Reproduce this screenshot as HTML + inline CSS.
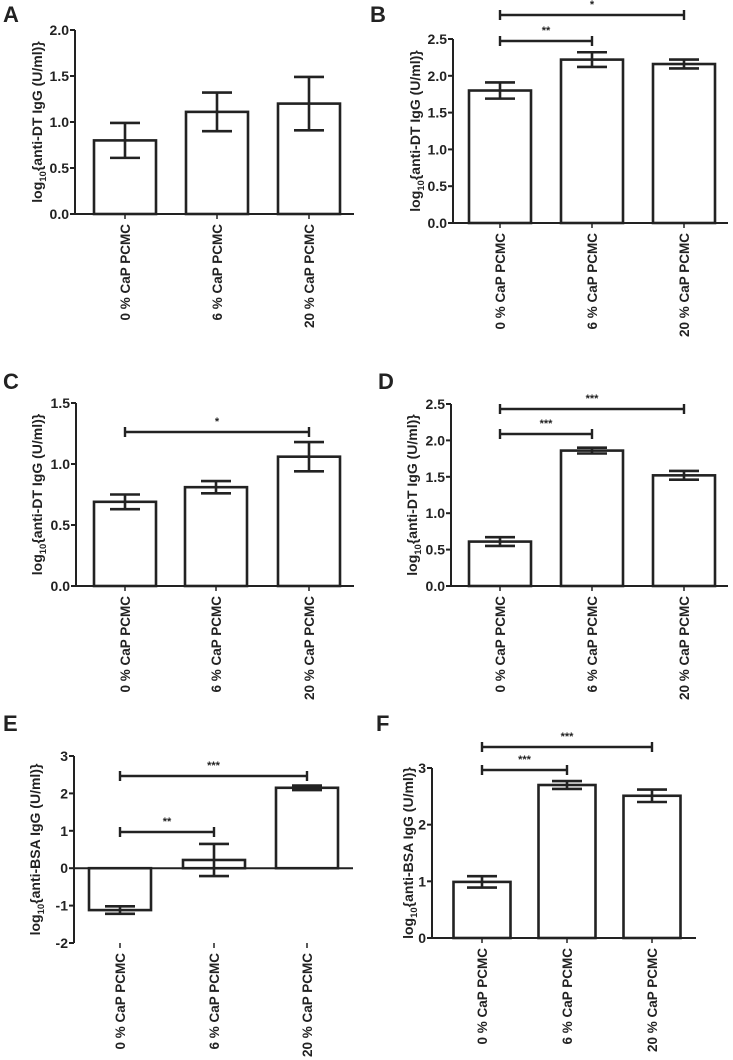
<!DOCTYPE html>
<html><head><meta charset="utf-8">
<style>
html,body{margin:0;padding:0;background:#fff;}
svg{display:block;}
text{font-family:"Liberation Sans",Arial,sans-serif;font-weight:bold;fill:#222;}
</style></head>
<body>
<svg id="fig" width="733" height="1060" viewBox="0 0 733 1060" xmlns="http://www.w3.org/2000/svg"></svg>
<script>
const categories = ["0 % CaP PCMC","6 % CaP PCMC","20 % CaP PCMC"];
const meansA = [0.80, 1.11, 1.20];
const errA   = [0.19, 0.21, 0.29];
const meansB = [1.80, 2.22, 2.16];
const errB   = [0.11, 0.10, 0.06];
const meansC = [0.69, 0.81, 1.06];
const errC   = [0.06, 0.05, 0.12];
const meansD = [0.61, 1.86, 1.52];
const errD   = [0.06, 0.04, 0.06];
const meansE = [-1.12, 0.22, 2.15];
const errE   = [0.10, 0.43, 0.06];
const meansF = [0.99, 2.70, 2.51];
const errF   = [0.10, 0.07, 0.11];
const ticksA = ["0.0","0.5","1.0","1.5","2.0"];
const ticksB = ["0.0","0.5","1.0","1.5","2.0","2.5"];
const ticksC = ["0.0","0.5","1.0","1.5"];
const ticksD = ["0.0","0.5","1.0","1.5","2.0","2.5"];
const ticksE = ["-2","-1","0","1","2","3"];
const ticksF = ["0","1","2","3"];
const sigB = [[0,2,"*"],[0,1,"**"]];
const sigC = [[0,2,"*"]];
const sigD = [[0,2,"***"],[0,1,"***"]];
const sigE = [[0,2,"***"],[0,1,"**"]];
const sigF = [[0,2,"***"],[0,1,"***"]];

const NS="http://www.w3.org/2000/svg";
const svg=document.getElementById('fig');
function mk(tag,attrs,parent){const e=document.createElementNS(NS,tag);for(const k in attrs)e.setAttribute(k,attrs[k]);(parent||svg).appendChild(e);return e;}

const panels=[
 {id:"a",letter:"A",lx:3,ly:22,ax:75,axEnd:354,yTop:30,y0:214,min:0,max:2.0,centers:[125,217,309],bw:62,means:meansA,errs:errA,ticks:ticksA,sig:[],sigY:[],title:"anti-DT IgG (U/ml)}",tx:37},
 {id:"b",letter:"B",lx:370,ly:22,ax:453,axEnd:728,yTop:39,y0:223,min:0,max:2.5,centers:[500,592,684],bw:62,means:meansB,errs:errB,ticks:ticksB,sig:sigB,sigY:[15,41],title:"anti-DT IgG (U/ml)}",tx:415},
 {id:"c",letter:"C",lx:3,ly:389,ax:76,axEnd:354,yTop:403,y0:586,min:0,max:1.5,centers:[125,216,309],bw:62,means:meansC,errs:errC,ticks:ticksC,sig:sigC,sigY:[432],title:"anti-DT IgG (U/ml)}",tx:37},
 {id:"d",letter:"D",lx:378,ly:389,ax:451,axEnd:728,yTop:404,y0:586,min:0,max:2.5,centers:[500,592,684],bw:62,means:meansD,errs:errD,ticks:ticksD,sig:sigD,sigY:[409,434],title:"anti-DT IgG (U/ml)}",tx:412},
 {id:"e",letter:"E",lx:3,ly:731,ax:74,axEnd:353,yTop:756,y0:943,min:-2,max:3,centers:[120,214,307],bw:62,means:meansE,errs:errE,ticks:ticksE,sig:sigE,sigY:[776,832],title:"anti-BSA IgG (U/ml)}",tx:35},
 {id:"f",letter:"F",lx:376,ly:731,ax:432,axEnd:696,yTop:768,y0:938,min:0,max:3,centers:[482,567,652],bw:57,means:meansF,errs:errF,ticks:ticksF,sig:sigF,sigY:[747,770],title:"anti-BSA IgG (U/ml)}",tx:408}
];

panels.forEach(p=>{
  const g=mk('g',{});
  
  
  const y=v=>p.y0-(v-p.min)/(p.max-p.min)*(p.y0-p.yTop);
  const zeroY=y(Math.max(p.min,0));
  const L=mk('text',{x:p.lx,y:p.ly,'font-size':22},g);L.textContent=p.letter;
  
  
  p.means.forEach((m,i)=>{
    const cx=p.centers[i];
    const yt=y(m);
    const b=mk('rect',{x:cx-p.bw/2,y:Math.min(yt,zeroY),width:p.bw,height:Math.abs(zeroY-yt),fill:'#fff',stroke:'#222','stroke-width':2.6},g);
    
    
    const hi=y(m+p.errs[i]),lo=y(m-p.errs[i]);
    const eb=mk('path',{d:`M${cx},${hi}V${lo}M${cx-15},${hi}H${cx+15}M${cx-15},${lo}H${cx+15}`,stroke:'#222','stroke-width':2.6,fill:'none'},g);
    
    
    mk('line',{x1:cx,y1:p.y0,x2:cx,y2:p.y0+5,stroke:'#222','stroke-width':1.5},g);
    const t=mk('text',{x:0,y:0,'font-size':13.5,'text-anchor':'end',transform:`translate(${cx+5},${p.y0+10}) rotate(-90)`},g);
    t.textContent=categories[i];
    
    
  });
  const ya=mk('line',{x1:p.ax,y1:p.yTop,x2:p.ax,y2:p.y0,stroke:'#222','stroke-width':2},g);
  
  
  const xa=mk('line',{x1:p.ax,y1:zeroY,x2:p.axEnd,y2:zeroY,stroke:'#222','stroke-width':2},g);
  
  
  p.ticks.forEach(tl=>{
    const ty=y(parseFloat(tl));
    mk('line',{x1:p.ax-5,y1:ty,x2:p.ax,y2:ty,stroke:'#222','stroke-width':2},g);
    const t=mk('text',{x:p.ax-6,y:ty+5,'font-size':14,'text-anchor':'end'},g);
    t.textContent=tl;
    
    
  });
  const ymid=(p.yTop+p.y0)/2;
  const tt=mk('text',{x:0,y:0,'font-size':14,'text-anchor':'middle',transform:`translate(${p.tx+5},${ymid}) rotate(-90)`},g);
  tt.innerHTML='log<tspan font-size="9.5" dy="4">10</tspan><tspan dy="-4">{'+p.title+'</tspan>';
  
  
  p.sig.forEach((s,k)=>{
    const x1=p.centers[s[0]],x2=p.centers[s[1]],sy=p.sigY[k];
    const br=mk('path',{d:`M${x1},${sy}H${x2}M${x1},${sy-5}V${sy+5}M${x2},${sy-5}V${sy+5}`,stroke:'#222','stroke-width':2.4,fill:'none'},g);
    
    
    const st=mk('text',{x:(x1+x2)/2,y:sy-7,'font-size':11,'font-weight':'normal','text-anchor':'middle'},g);
    st.textContent=s[2];
    
    
  });
});
</script>
</body></html>
